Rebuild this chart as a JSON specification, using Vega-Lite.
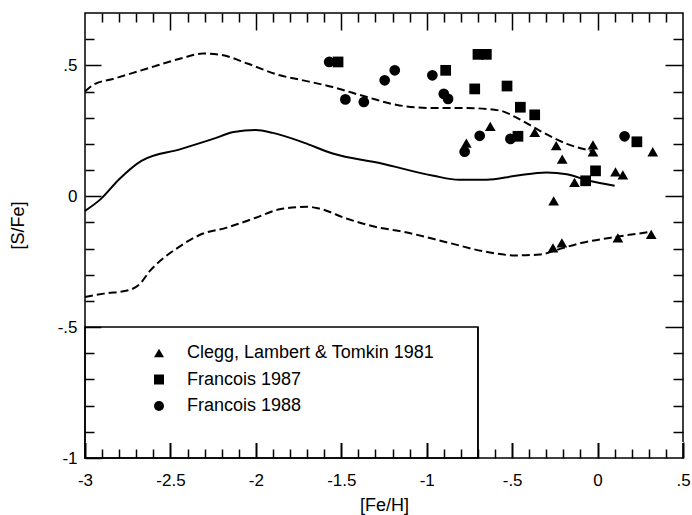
{
  "$schema": "https://vega.github.io/schema/vega-lite/v6.json",
  "width": 598,
  "height": 445,
  "autosize": "none",
  "padding": {"left": 85, "top": 13, "right": 9, "bottom": 57},
  "background": "white",
  "config": {
    "view": {"stroke": "black", "strokeWidth": 1.5},
    "axis": {"grid": false, "domain": false, "labelFont": "Liberation Sans", "labelFontSize": 17, "labelColor": "black", "titleFont": "Liberation Sans", "titleFontSize": 18, "titleFontWeight": "normal", "titleColor": "black"},
    "legend": {"labelFont": "Liberation Sans", "labelFontSize": 18, "labelColor": "black", "labelLimit": 0}
  },
  "datasets": {
    "box": [{"x": -3, "x2": -0.7, "y": -1, "y2": -0.5}],
    "curves": [
      {"c": "upper", "x": -3, "y": 0.40}, {"c": "upper", "x": -2.95, "y": 0.426}, {"c": "upper", "x": -2.83, "y": 0.449}, {"c": "upper", "x": -2.64, "y": 0.487}, {"c": "upper", "x": -2.44, "y": 0.526}, {"c": "upper", "x": -2.31, "y": 0.545}, {"c": "upper", "x": -2.21, "y": 0.541}, {"c": "upper", "x": -2.05, "y": 0.507}, {"c": "upper", "x": -1.86, "y": 0.462}, {"c": "upper", "x": -1.74, "y": 0.445}, {"c": "upper", "x": -1.55, "y": 0.417}, {"c": "upper", "x": -1.35, "y": 0.379}, {"c": "upper", "x": -1.16, "y": 0.347}, {"c": "upper", "x": -0.96, "y": 0.337}, {"c": "upper", "x": -0.77, "y": 0.337}, {"c": "upper", "x": -0.57, "y": 0.327}, {"c": "upper", "x": -0.48, "y": 0.302}, {"c": "upper", "x": -0.34, "y": 0.251}, {"c": "upper", "x": -0.18, "y": 0.20}, {"c": "upper", "x": -0.03, "y": 0.172},
      {"c": "lower", "x": -3, "y": -0.385}, {"c": "lower", "x": -2.89, "y": -0.372}, {"c": "lower", "x": -2.74, "y": -0.358}, {"c": "lower", "x": -2.68, "y": -0.336}, {"c": "lower", "x": -2.62, "y": -0.285}, {"c": "lower", "x": -2.54, "y": -0.236}, {"c": "lower", "x": -2.46, "y": -0.198}, {"c": "lower", "x": -2.33, "y": -0.148}, {"c": "lower", "x": -2.17, "y": -0.12}, {"c": "lower", "x": -2.0, "y": -0.082}, {"c": "lower", "x": -1.86, "y": -0.05}, {"c": "lower", "x": -1.70, "y": -0.04}, {"c": "lower", "x": -1.63, "y": -0.047}, {"c": "lower", "x": -1.47, "y": -0.085}, {"c": "lower", "x": -1.28, "y": -0.12}, {"c": "lower", "x": -1.16, "y": -0.133}, {"c": "lower", "x": -0.87, "y": -0.178}, {"c": "lower", "x": -0.67, "y": -0.21}, {"c": "lower", "x": -0.48, "y": -0.226}, {"c": "lower", "x": -0.34, "y": -0.223}, {"c": "lower", "x": -0.22, "y": -0.201}, {"c": "lower", "x": -0.09, "y": -0.178}, {"c": "lower", "x": 0.11, "y": -0.155}, {"c": "lower", "x": 0.30, "y": -0.137}
    ],
    "mean": [
      {"x": -3, "y": -0.056}, {"x": -2.91, "y": -0.012}, {"x": -2.80, "y": 0.065}, {"x": -2.67, "y": 0.135}, {"x": -2.44, "y": 0.18}, {"x": -2.25, "y": 0.219}, {"x": -2.13, "y": 0.245}, {"x": -2.0, "y": 0.253}, {"x": -1.90, "y": 0.242}, {"x": -1.72, "y": 0.205}, {"x": -1.55, "y": 0.163}, {"x": -1.27, "y": 0.126}, {"x": -0.96, "y": 0.078}, {"x": -0.81, "y": 0.063}, {"x": -0.65, "y": 0.063}, {"x": -0.48, "y": 0.078}, {"x": -0.30, "y": 0.091}, {"x": -0.18, "y": 0.084}, {"x": -0.05, "y": 0.059}, {"x": 0.10, "y": 0.04}
    ],
    "pts": [
      {"s": "Clegg, Lambert & Tomkin 1981", "x": -0.628, "y": 0.267},
      {"s": "Clegg, Lambert & Tomkin 1981", "x": -0.768, "y": 0.203},
      {"s": "Clegg, Lambert & Tomkin 1981", "x": -0.368, "y": 0.244},
      {"s": "Clegg, Lambert & Tomkin 1981", "x": -0.242, "y": 0.193},
      {"s": "Clegg, Lambert & Tomkin 1981", "x": -0.207, "y": 0.142},
      {"s": "Clegg, Lambert & Tomkin 1981", "x": -0.027, "y": 0.196},
      {"s": "Clegg, Lambert & Tomkin 1981", "x": -0.027, "y": 0.17},
      {"s": "Clegg, Lambert & Tomkin 1981", "x": -0.135, "y": 0.053},
      {"s": "Clegg, Lambert & Tomkin 1981", "x": -0.257, "y": -0.018},
      {"s": "Clegg, Lambert & Tomkin 1981", "x": 0.105, "y": 0.093},
      {"s": "Clegg, Lambert & Tomkin 1981", "x": 0.148, "y": 0.082},
      {"s": "Clegg, Lambert & Tomkin 1981", "x": 0.323, "y": 0.17},
      {"s": "Clegg, Lambert & Tomkin 1981", "x": -0.261, "y": -0.197},
      {"s": "Clegg, Lambert & Tomkin 1981", "x": -0.209, "y": -0.178},
      {"s": "Clegg, Lambert & Tomkin 1981", "x": 0.119, "y": -0.159},
      {"s": "Clegg, Lambert & Tomkin 1981", "x": 0.314, "y": -0.146},
      {"s": "Francois 1987", "x": -1.519, "y": 0.513},
      {"s": "Francois 1987", "x": -0.889, "y": 0.481},
      {"s": "Francois 1987", "x": -0.719, "y": 0.41},
      {"s": "Francois 1987", "x": -0.70, "y": 0.542},
      {"s": "Francois 1987", "x": -0.651, "y": 0.542},
      {"s": "Francois 1987", "x": -0.53, "y": 0.421},
      {"s": "Francois 1987", "x": -0.452, "y": 0.34},
      {"s": "Francois 1987", "x": -0.368, "y": 0.311},
      {"s": "Francois 1987", "x": -0.466, "y": 0.229},
      {"s": "Francois 1987", "x": -0.012, "y": 0.097},
      {"s": "Francois 1987", "x": -0.07, "y": 0.059},
      {"s": "Francois 1987", "x": 0.23, "y": 0.208},
      {"s": "Francois 1988", "x": -1.571, "y": 0.513},
      {"s": "Francois 1988", "x": -1.476, "y": 0.37},
      {"s": "Francois 1988", "x": -1.368, "y": 0.36},
      {"s": "Francois 1988", "x": -1.246, "y": 0.443},
      {"s": "Francois 1988", "x": -1.187, "y": 0.481},
      {"s": "Francois 1988", "x": -0.967, "y": 0.462},
      {"s": "Francois 1988", "x": -0.90, "y": 0.391},
      {"s": "Francois 1988", "x": -0.875, "y": 0.372},
      {"s": "Francois 1988", "x": -0.778, "y": 0.17},
      {"s": "Francois 1988", "x": -0.69, "y": 0.231},
      {"s": "Francois 1988", "x": -0.51, "y": 0.219},
      {"s": "Francois 1988", "x": 0.158, "y": 0.229}
    ]
  },
  "resolve": {"axis": {"x": "independent", "y": "independent"}},
  "layer": [
    {
      "data": {"name": "box"},
      "mark": {"type": "rect", "fill": null, "stroke": "black", "strokeWidth": 1.5},
      "encoding": {
        "x": {"field": "x", "type": "quantitative", "scale": {"domain": [-3, 0.5], "nice": false, "zero": false},
          "axis": {"orient": "bottom", "title": "[Fe/H]", "values": [-3, -2.5, -2, -1.5, -1, -0.5, 0, 0.5], "domain": true, "domainColor": "white", "domainWidth": 1, "ticks": true, "tickColor": "black", "tickWidth": 2, "tickOpacity": 1, "offset": -16, "tickSize": 16, "labelPadding": 14, "labelExpr": "replace(replace(format(datum.value, '.1~f'), '\u2212', '-'), '0.', '.')", "labelFlush": false, "titleY": 63, "titleBaseline": "middle"}},
        "x2": {"field": "x2"},
        "y": {"field": "y", "type": "quantitative", "scale": {"domain": [-1, 0.7], "nice": false, "zero": false},
          "axis": {"orient": "left", "title": "[S/Fe]", "values": [-1, -0.5, 0, 0.5], "ticks": true, "tickColor": "black", "tickWidth": 1.5, "tickOpacity": 1, "offset": -16, "tickSize": 16, "labelPadding": 8, "labelExpr": "replace(replace(format(datum.value, '.1~f'), '\u2212', '-'), '0.', '.')", "labelFlush": false, "titleX": -83, "titleY": 212, "titleBaseline": "middle"}},
        "y2": {"field": "y2"}
      }
    },
    {
      "data": {"name": "box"},
      "mark": {"type": "rule", "color": "black", "strokeWidth": 1.5},
      "encoding": {
        "x": {"field": "x2", "type": "quantitative", "axis": null},
        "y": {"field": "y", "type": "quantitative", "axis": null},
        "y2": {"field": "y2"}
      }
    },
    {
      "data": {"name": "curves"},
      "mark": {"type": "line", "color": "black", "strokeWidth": 2, "interpolate": "monotone", "strokeDash": [8, 4]},
      "encoding": {
        "x": {"field": "x", "type": "quantitative", "scale": {"domain": [-3, 0.5], "nice": false, "zero": false},
          "axis": {"orient": "bottom", "title": null, "labels": false, "ticks": true, "tickColor": "black", "tickWidth": 1.5, "tickOpacity": 1, "offset": -9, "tickSize": 9, "values": [-2.9, -2.8, -2.7, -2.6, -2.4, -2.3, -2.2, -2.1, -1.9, -1.8, -1.7, -1.6, -1.4, -1.3, -1.2, -1.1, -0.9, -0.8, -0.7, -0.6, -0.4, -0.3, -0.2, -0.1, 0.1, 0.2, 0.3, 0.4]}},
        "y": {"field": "y", "type": "quantitative", "scale": {"domain": [-1, 0.7], "nice": false, "zero": false},
          "axis": {"orient": "left", "title": null, "labels": false, "ticks": true, "tickColor": "black", "tickWidth": 1.5, "tickOpacity": 1, "offset": -9, "tickSize": 9, "values": [-0.9, -0.8, -0.7, -0.6, -0.4, -0.3, -0.2, -0.1, 0.1, 0.2, 0.3, 0.4, 0.6]}},
        "detail": {"field": "c"}
      }
    },
    {
      "data": {"name": "mean"},
      "mark": {"type": "line", "color": "black", "strokeWidth": 2, "interpolate": "monotone"},
      "encoding": {
        "x": {"field": "x", "type": "quantitative", "scale": {"domain": [-3, 0.5], "nice": false, "zero": false},
          "axis": {"orient": "top", "title": null, "labels": false, "ticks": true, "tickColor": "black", "tickWidth": 1.5, "tickOpacity": 1, "offset": -9, "tickSize": 9, "values": [-2.9, -2.8, -2.7, -2.6, -2.4, -2.3, -2.2, -2.1, -1.9, -1.8, -1.7, -1.6, -1.4, -1.3, -1.2, -1.1, -0.9, -0.8, -0.7, -0.6, -0.4, -0.3, -0.2, -0.1, 0.1, 0.2, 0.3, 0.4]}},
        "y": {"field": "y", "type": "quantitative", "scale": {"domain": [-1, 0.7], "nice": false, "zero": false},
          "axis": {"orient": "right", "title": null, "labels": false, "ticks": true, "tickColor": "black", "tickWidth": 1.5, "tickOpacity": 1, "offset": -10, "tickSize": 10, "values": [-0.9, -0.8, -0.7, -0.6, -0.4, -0.3, -0.2, -0.1, 0.1, 0.2, 0.3, 0.4, 0.6]}}
      }
    },
    {
      "data": {"name": "pts"},
      "mark": {"type": "point", "filled": true, "color": "black", "opacity": 1, "size": 115},
      "encoding": {
        "x": {"field": "x", "type": "quantitative", "scale": {"domain": [-3, 0.5], "nice": false, "zero": false},
          "axis": {"orient": "top", "title": null, "labels": false, "ticks": true, "tickColor": "black", "tickWidth": 1.5, "tickOpacity": 1, "offset": -17, "tickSize": 17, "values": [-2.5, -2, -1.5, -1, -0.5, 0]}},
        "y": {"field": "y", "type": "quantitative", "scale": {"domain": [-1, 0.7], "nice": false, "zero": false},
          "axis": {"orient": "right", "title": null, "labels": false, "ticks": true, "tickColor": "black", "tickWidth": 1.5, "tickOpacity": 1, "offset": -18, "tickSize": 18, "values": [-0.5, 0, 0.5]}},
        "shape": {"field": "s", "type": "nominal",
          "scale": {"domain": ["Clegg, Lambert & Tomkin 1981", "Francois 1987", "Francois 1988"], "range": ["triangle-up", "square", "circle"]},
          "legend": {"title": null, "orient": "none", "legendX": 65, "legendY": 331, "padding": 0, "symbolSize": 100, "symbolFillColor": "black", "symbolStrokeColor": "black", "labelOffset": 19, "rowPadding": 8.5, "symbolOpacity": 1}}
      }
    }
  ]
}
